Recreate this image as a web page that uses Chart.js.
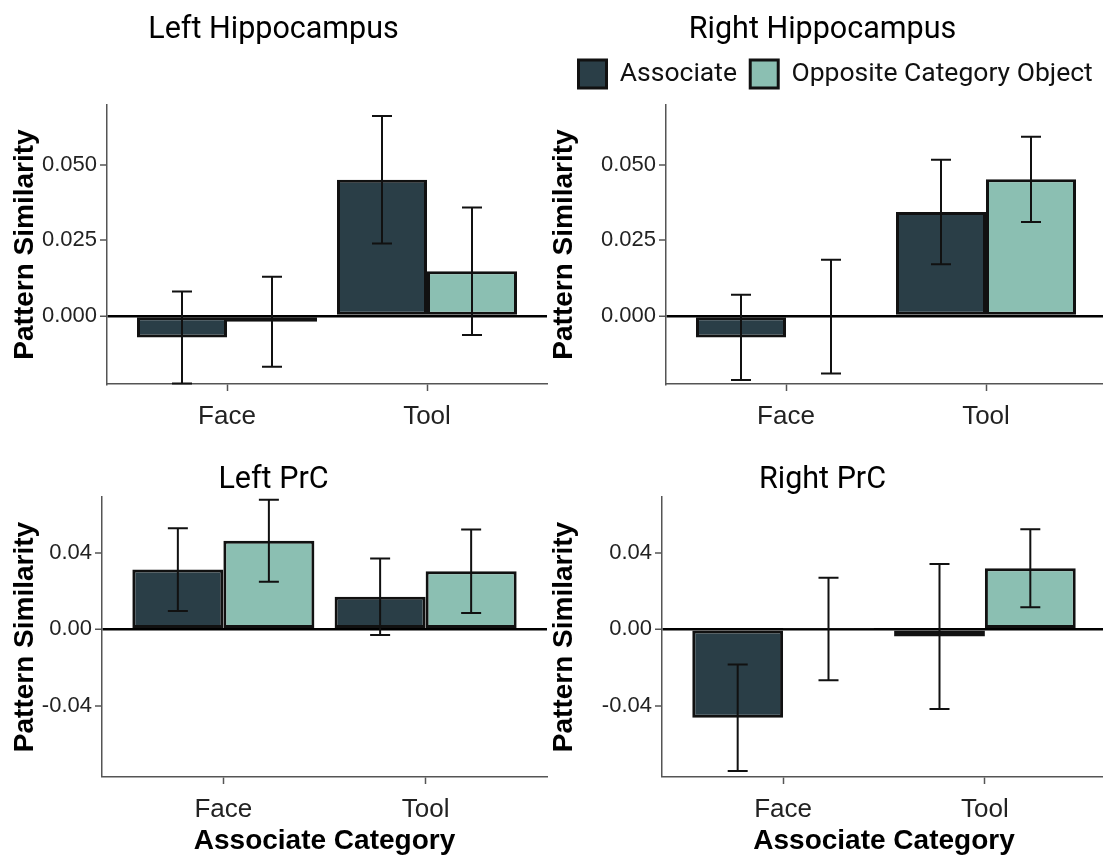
<!DOCTYPE html>
<html>
<head>
<meta charset="utf-8">
<script src="https://cdn.jsdelivr.net/npm/chart.js@4.4.1/dist/chart.umd.min.js"></script>
<style>
html, body { margin: 0; padding: 0; background: #ffffff; width: 1103px; height: 856px; overflow: hidden; }
.panel { position: absolute; }
</style>
</head>
<body>
<div class="panel" id="w1"><canvas id="c1"></canvas></div>
<div class="panel" id="w2"><canvas id="c2"></canvas></div>
<div class="panel" id="w3"><canvas id="c3"></canvas></div>
<div class="panel" id="w4"><canvas id="c4"></canvas></div>
<script>
// ---------------- DATA ----------------
const categories = ['Face', 'Tool'];
const categoryPositions = [1, 2];
const seriesNames = ['Associate', 'Opposite Category Object'];
const panelTitles = ['Left Hippocampus', 'Right Hippocampus', 'Left PrC', 'Right PrC'];
const xAxisTitle = 'Associate Category';
const yAxisTitle = 'Pattern Similarity';

const leftHippAssociate   = [-0.0071, 0.0451];
const leftHippAssociateSE = [0.0152, 0.0211];
const leftHippOpposite    = [-0.0019, 0.0148];
const leftHippOppositeSE  = [0.0149, 0.0211];

const rightHippAssociate   = [-0.0071, 0.0344];
const rightHippAssociateSE = [0.0141, 0.0173];
const rightHippOpposite    = [-0.0002, 0.0452];
const rightHippOppositeSE  = [0.0188, 0.0141];

const leftPrcAssociate   = [0.0313, 0.0171];
const leftPrcAssociateSE = [0.0217, 0.0201];
const leftPrcOpposite    = [0.0465, 0.0304];
const leftPrcOppositeSE  = [0.0215, 0.0219];

const rightPrcAssociate   = [-0.0464, -0.0038];
const rightPrcAssociateSE = [0.0279, 0.0380];
const rightPrcOpposite    = [0.0002, 0.0320];
const rightPrcOppositeSE  = [0.0269, 0.0205];

const hippRange = [-0.0225, 0.0698];
const hippTickValues = [0, 0.025, 0.05];
const hippTickLabels = ['0.000', '0.025', '0.050'];
const prcRange = [-0.0775, 0.0694];
const prcTickValues = [-0.04, 0, 0.04];
const prcTickLabels = ['-0.04', '0.00', '0.04'];
const xRange = [0.4, 2.6];

// ---------------- STYLE ----------------
const COLOR_ASSOC = '#2a3e47';
const COLOR_OPP = '#8bbfb2';
const AXIS_GREY = '#555555';
const TICK_TEXT = '#222222';

const errorBarPlugin = {
  id: 'errorBars',
  afterDatasetsDraw(chart) {
    const ctx = chart.ctx;
    const yScale = chart.scales.y;
    chart.data.datasets.forEach((ds, di) => {
      const meta = chart.getDatasetMeta(di);
      meta.data.forEach((bar, i) => {
        const v = ds.data[i].y;
        const e = ds.errors[i];
        const x = bar.x;
        const yHi = yScale.getPixelForValue(v + e);
        const yLo = yScale.getPixelForValue(v - e);
        const cap = 10;
        ctx.save();
        ctx.strokeStyle = '#111111';
        ctx.lineWidth = 2;
        ctx.beginPath();
        ctx.moveTo(x, yHi); ctx.lineTo(x, yLo);
        ctx.moveTo(x - cap, yHi); ctx.lineTo(x + cap, yHi);
        ctx.moveTo(x - cap, yLo); ctx.lineTo(x + cap, yLo);
        ctx.stroke();
        ctx.restore();
      });
    });
  }
};

function makeData(values) {
  return values.map((v, i) => ({ x: categoryPositions[i], y: v }));
}

function makePanel(p) {
  const wrap = document.getElementById(p.wrap);
  wrap.style.left = p.left + 'px';
  wrap.style.top = p.top + 'px';
  const canvas = document.getElementById(p.canvas);
  canvas.width = p.w;
  canvas.height = p.h;
  canvas.style.width = p.w + 'px';
  canvas.style.height = p.h + 'px';

  const datasets = [
    { label: seriesNames[0], data: makeData(p.assoc), errors: p.assocSE,
      backgroundColor: COLOR_ASSOC, borderColor: '#111111', borderWidth: 3, borderSkipped: false },
    { label: seriesNames[1], data: makeData(p.opp), errors: p.oppSE,
      backgroundColor: COLOR_OPP, borderColor: '#111111', borderWidth: 3, borderSkipped: false }
  ];

  new Chart(canvas, {
    type: 'bar',
    data: { datasets },
    plugins: [errorBarPlugin],
    options: {
      responsive: false,
      animation: false,
      events: [],
      devicePixelRatio: 1,
      categoryPercentage: 0.9,
      barPercentage: 1.0,
      layout: { padding: { left: 0, right: p.padRight, top: 0, bottom: 0 } },
      plugins: {
        tooltip: { enabled: false },
        title: {
          display: true, text: p.title, color: '#000000',
          font: { family: 'Roboto', size: 30.5, weight: 'normal', lineHeight: 1.1 },
          padding: { top: p.titleTop, bottom: p.titleBottom }
        },
        subtitle: {
          display: !!p.spacer, text: '', weight: 500, padding: 0,
          font: { size: p.spacer || 1, lineHeight: 1 }
        },
        legend: {
          display: !!p.legend, position: 'top', align: 'end',
          labels: {
            boxWidth: 28, boxHeight: 28, padding: 13.25, color: '#111111',
            font: { family: 'Roboto', size: 26.5 }
          }
        }
      },
      scales: {
        x: {
          type: 'linear', min: xRange[0], max: xRange[1], offset: false,
          afterFit: (s) => { s.height = p.xHeight; },
          afterBuildTicks: (s) => { s.ticks = categoryPositions.map(v => ({ value: v })); },
          ticks: {
            autoSkip: false, maxRotation: 0, minRotation: 0, padding: 10.5, color: TICK_TEXT,
            font: { family: 'Liberation Sans', size: 26 },
            callback: (v) => categories[categoryPositions.indexOf(v)]
          },
          grid: { offset: false, drawOnChartArea: false, drawTicks: true, tickLength: 7,
                  tickColor: AXIS_GREY, tickWidth: 1.5 },
          border: { display: true, color: AXIS_GREY, width: 1.5 },
          title: {
            display: !!p.xTitle, text: xAxisTitle, color: '#000000',
            font: { family: 'Liberation Sans', size: 28, weight: 'bold', lineHeight: 1.2 },
            padding: { top: 0, bottom: -2 }
          }
        },
        y: {
          type: 'linear', min: p.range[0], max: p.range[1],
          afterFit: (s) => { s.width = p.yWidth; },
          afterBuildTicks: (s) => { s.ticks = p.tickValues.map(v => ({ value: v })); },
          ticks: {
            autoSkip: false, padding: 3, color: TICK_TEXT,
            font: { family: 'Liberation Sans', size: 22 },
            callback: (v, i) => p.tickLabels[i]
          },
          grid: {
            drawOnChartArea: true, drawTicks: true, tickLength: 7,
            color: (c) => (c.tick && c.tick.value === 0) ? '#000000' : 'rgba(0,0,0,0)',
            lineWidth: (c) => (c.tick && c.tick.value === 0) ? 2.5 : 0,
            tickColor: AXIS_GREY, tickWidth: 1.5
          },
          border: { display: true, color: AXIS_GREY, width: 1.5 },
          title: {
            display: true, text: yAxisTitle, color: '#000000',
            font: { family: 'Liberation Sans', size: 28, weight: 'bold', lineHeight: 1.2 },
            padding: { top: 8, bottom: 0 }
          }
        }
      }
    }
  });
}

makePanel({ wrap: 'w1', canvas: 'c1', left: 0, top: 0, w: 558, h: 440,
  title: panelTitles[0], titleTop: 13.2, titleBottom: 58.25,
  yWidth: 107, padRight: 11, xHeight: 56,
  assoc: leftHippAssociate, assocSE: leftHippAssociateSE, opp: leftHippOpposite, oppSE: leftHippOppositeSE,
  range: hippRange, tickValues: hippTickValues, tickLabels: hippTickLabels });

makePanel({ wrap: 'w2', canvas: 'c2', left: 539, top: 0, w: 567, h: 440,
  title: panelTitles[1], titleTop: 13.2, titleBottom: 0, legend: true, spacer: 7,
  yWidth: 127, padRight: 0, xHeight: 56,
  assoc: rightHippAssociate, assocSE: rightHippAssociateSE, opp: rightHippOpposite, oppSE: rightHippOppositeSE,
  range: hippRange, tickValues: hippTickValues, tickLabels: hippTickLabels });

makePanel({ wrap: 'w3', canvas: 'c3', left: 0, top: 440, w: 558, h: 416,
  title: panelTitles[2], titleTop: 23.2, titleBottom: 0.25, xTitle: true,
  yWidth: 102, padRight: 11, xHeight: 79,
  assoc: leftPrcAssociate, assocSE: leftPrcAssociateSE, opp: leftPrcOpposite, oppSE: leftPrcOppositeSE,
  range: prcRange, tickValues: prcTickValues, tickLabels: prcTickLabels });

makePanel({ wrap: 'w4', canvas: 'c4', left: 539, top: 440, w: 567, h: 416,
  title: panelTitles[3], titleTop: 23.2, titleBottom: 0.25, xTitle: true,
  yWidth: 123, padRight: 0, xHeight: 79,
  assoc: rightPrcAssociate, assocSE: rightPrcAssociateSE, opp: rightPrcOpposite, oppSE: rightPrcOppositeSE,
  range: prcRange, tickValues: prcTickValues, tickLabels: prcTickLabels });
</script>
</body>
</html>
